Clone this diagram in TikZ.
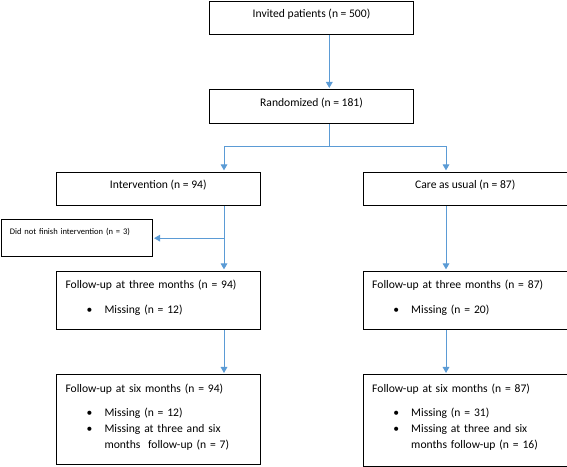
\documentclass[tikz,border=0pt]{standalone}
\usepackage{fontspec}
\setmainfont{Carlito}
\usetikzlibrary{arrows.meta,positioning}
\definecolor{flowblue}{RGB}{91,155,213}
\newcommand\blt{\makebox[29.25pt][l]{\hspace{15.8pt}\textbullet}}
\newcommand\bltcont{\hspace*{29.25pt}}
\tikzset{
  flowbox/.style={draw, line width=0.8pt, anchor=north west, inner ysep=0pt, font=\fontsize{8.7}{12}\selectfont},
  single/.style={flowbox, minimum width=153pt, text height=12.2pt, text depth=12.55pt},
  multi/.style={flowbox, align=left, text width=139.5pt, inner xsep=6.75pt, text height=12.9pt},
  flow/.style={draw=flowblue, line width=0.75pt, -{Triangle[width=5pt,length=4.5pt]}, shorten >=1pt},
}
\begin{document}
\begin{tikzpicture}[x=0.75pt,y=0.75pt,yscale=-1,xscale=1]
\useasboundingbox (0,0) rectangle (567,467);

% Boxes
\node[single, minimum width=152.5pt] (invited) at (209.3,0.6) {Invited patients (n = 500)};
\node[single, minimum width=152.5pt, text depth=13.3pt] (rand) at (209.3,89.3) {Randomized (n = 181)};
\node[single] (interv) at (55.7,171.7) {Intervention (n = 94)};
\node[single] (care) at (362.7,171.7) {Care as usual (n = 87)};
\node[flowbox, align=left, font=\fontsize{6.4}{8}\selectfont, inner xsep=6.5pt, text width=100.3pt, text height=10.8pt, text depth=16.7pt] (drop) at (0.6,219.3) {Did not finish intervention (n = 3)};
\node[multi, text depth=31.1pt] (fu3l) at (56,270.7) {Follow-up at three months (n = 94)\\[6.5pt]
  \blt Missing (n = 12)};
\node[multi, text depth=31.1pt] (fu3r) at (362.7,270.7) {Follow-up at three months (n = 87)\\[6.5pt]
  \blt Missing (n = 20)};
\node[multi, text depth=54.4pt] (fu6l) at (56,374.3) {Follow-up at six months (n = 94)\\[6.5pt]
  \blt Missing (n = 12)\\
  \blt Missing at three and six\\
  \bltcont months\ \ follow-up (n = 7)};
\node[multi, text depth=55.9pt] (fu6r) at (362.7,374.3) {Follow-up at six months (n = 87)\\[6.5pt]
  \blt Missing (n = 31)\\
  \blt Missing at three and six\\
  \bltcont months follow-up (n = 16)};

% Connectors
\coordinate (split) at (329.3,146);
\coordinate (lcol) at (224,146);
\coordinate (rcol) at (446,146);
\draw[flow] (invited.south -| split) -- (rand.north -| split);
\draw[flow] (rand.south -| split) -- (split) -- (lcol) -- (interv.north -| lcol);
\draw[flow] (split) -- (rcol) -- (care.north -| rcol);
\draw[flow] (interv.south -| lcol) -- (fu3l.north -| lcol);
\draw[flow] (drop.east -| lcol) -- (drop.east);
\draw[flow] (care.south -| rcol) -- (fu3r.north -| rcol);
\draw[flow] (fu3l.south -| lcol) -- (fu6l.north -| lcol);
\draw[flow] (fu3r.south -| rcol) -- (fu6r.north -| rcol);

\end{tikzpicture}
\end{document}
